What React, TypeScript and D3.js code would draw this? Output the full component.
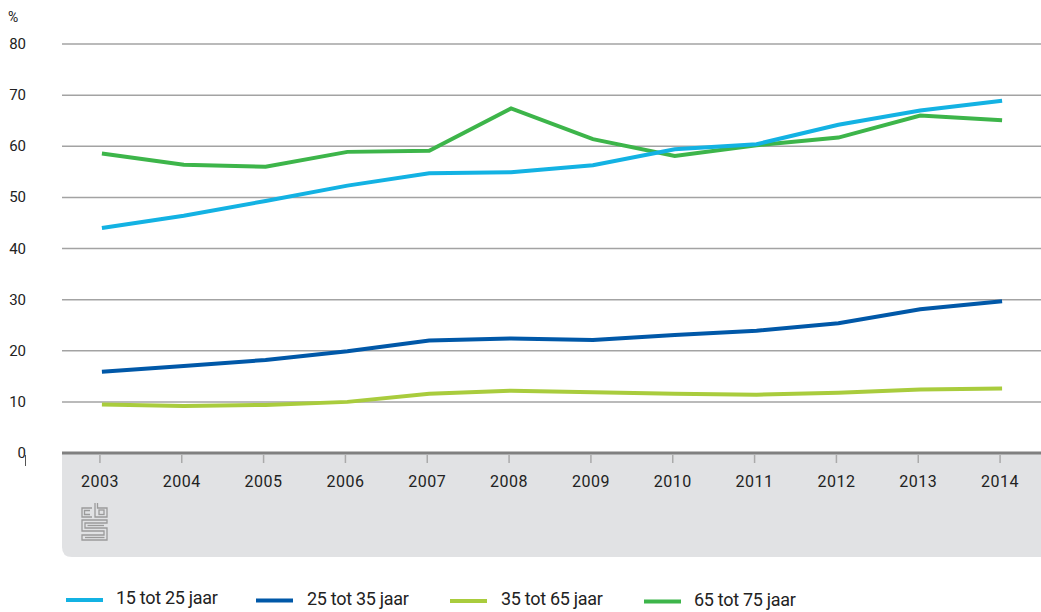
import React from "react";
import * as d3 from "d3";

const years = ["2003","2004","2005","2006","2007","2008","2009","2010","2011","2012","2013","2014"];
const s15_25 = [44.0, 46.4, 49.3, 52.3, 54.7, 54.9, 56.3, 59.4, 60.4, 64.2, 67.0, 68.9];
const s25_35 = [15.9, 17.0, 18.2, 19.9, 22.0, 22.4, 22.1, 23.1, 23.9, 25.4, 28.1, 29.7];
const s35_65 = [9.5, 9.2, 9.4, 10.0, 11.6, 12.2, 11.9, 11.6, 11.4, 11.8, 12.4, 12.6];
const s65_75 = [58.6, 56.4, 56.0, 58.9, 59.1, 67.4, 61.4, 58.1, 60.2, 61.7, 66.0, 65.1];
const yTicks = [0, 10, 20, 30, 40, 50, 60, 70, 80];
const seriesNames = ["15 tot 25 jaar", "25 tot 35 jaar", "35 tot 65 jaar", "65 tot 75 jaar"];

const W = 1041, H = 612;
const FONT = "Roboto, 'Noto Sans', sans-serif";

export default function App() {
  const x = d3.scaleBand<string>().domain(years).range([61, 1043]);
  const cx = (y: string) => (x(y) as number) + x.bandwidth() / 2;
  const y = d3.scaleLinear().domain([0, 80]).range([453, 44]);

  const series = [
    { name: seriesNames[3], values: s65_75, color: "#3db54a" },
    { name: seriesNames[2], values: s35_65, color: "#a9cc3d" },
    { name: seriesNames[1], values: s25_35, color: "#0058a8" },
    { name: seriesNames[0], values: s15_25, color: "#13b2e3" },
  ];
  const line = d3.line<number>().x((_, i) => cx(years[i])).y((v) => y(v));

  const legend = [
    { name: seriesNames[0], color: "#13b2e3", lx: 66, tx: 116, yy: 600 },
    { name: seriesNames[1], color: "#0058a8", lx: 256, tx: 307, yy: 600.5 },
    { name: seriesNames[2], color: "#a9cc3d", lx: 450, tx: 501, yy: 601 },
    { name: seriesNames[3], color: "#3db54a", lx: 644, tx: 694, yy: 601.5 },
  ];

  const panelTop = 453, panelBottom = 557, panelLeft = 62, r = 10;
  const panelPath = `M${panelLeft},${panelTop} H${W} V${panelBottom} H${panelLeft + r} Q${panelLeft},${panelBottom} ${panelLeft},${panelBottom - r} Z`;

  const lx0 = 82, ly0 = 503;
  const logoStroke = "#9a9a9a";

  return (
    <svg width={W} height={H} style={{ position: "absolute", left: 0, top: 0, background: "#fff" }} fontFamily={FONT}>
      <path d={panelPath} fill="#e1e2e4" />
      {yTicks.filter((t) => t > 0).map((t) => (
        <line key={t} x1={62} x2={W} y1={y(t)} y2={y(t)} stroke="#a3a3a3" strokeWidth={1.5} />
      ))}
      {yTicks.map((t) => (
        <text key={"l" + t} x={26} y={y(t) + 5} fontSize={15} fill="#222" textAnchor="end">{t}</text>
      ))}
      <text x={8} y={22} fontSize={14} fill="#222">%</text>
      <line x1={25.5} x2={25.5} y1={455} y2={466} stroke="#555" strokeWidth={1} />
      {years.map((yr) => (
        <g key={yr}>
          <line x1={cx(yr) - 2} x2={cx(yr) - 2} y1={455} y2={463} stroke="#aaa" strokeWidth={1.5} />
          <text x={cx(yr) - 2} y={487} textAnchor="middle" fontSize={16} letterSpacing={0.5} fill="#222">{yr}</text>
        </g>
      ))}
      <line x1={62} x2={W} y1={453} y2={453} stroke="#808080" strokeWidth={3} />
      {series.map((s) => (
        <path key={s.name} d={line(s.values) || ""} fill="none" stroke={s.color} strokeWidth={4} strokeLinejoin="miter" />
      ))}
      <g fill="none" stroke={logoStroke} strokeWidth={1.3}>
        <path d={`M${lx0 + 10},${ly0 + 5} H${lx0} V${ly0 + 14} H${lx0 + 10}`} />
        <path d={`M${lx0 + 8},${ly0 + 7.5} H${lx0 + 2.5} V${ly0 + 11.5} H${lx0 + 8}`} />
        <path d={`M${lx0 + 13},${ly0} V${ly0 + 14} H${lx0 + 25} V${ly0 + 5} H${lx0 + 15.5} V${ly0}`} />
        <rect x={lx0 + 17} y={ly0 + 7} width={5} height={4.5} />
        <path d={`M${lx0 + 25},${ly0 + 17} H${lx0} V${ly0 + 28} H${lx0 + 22} V${ly0 + 32} H${lx0} V${ly0 + 37} H${lx0 + 25} V${ly0 + 25} H${lx0 + 3} V${ly0 + 20} H${lx0 + 25} Z`} />
        <path d={`M${lx0 + 22},${ly0 + 22.5} H${lx0 + 5.5}`} />
        <path d={`M${lx0 + 3},${ly0 + 34.5} H${lx0 + 22.5}`} />
      </g>
      {legend.map((l) => (
        <g key={l.name}>
          <line x1={l.lx} x2={l.lx + 37} y1={l.yy} y2={l.yy} stroke={l.color} strokeWidth={4} />
          <text x={l.tx} y={l.yy + 4} fontSize={18} letterSpacing={-0.3} fill="#222">{l.name}</text>
        </g>
      ))}
    </svg>
  );
}
